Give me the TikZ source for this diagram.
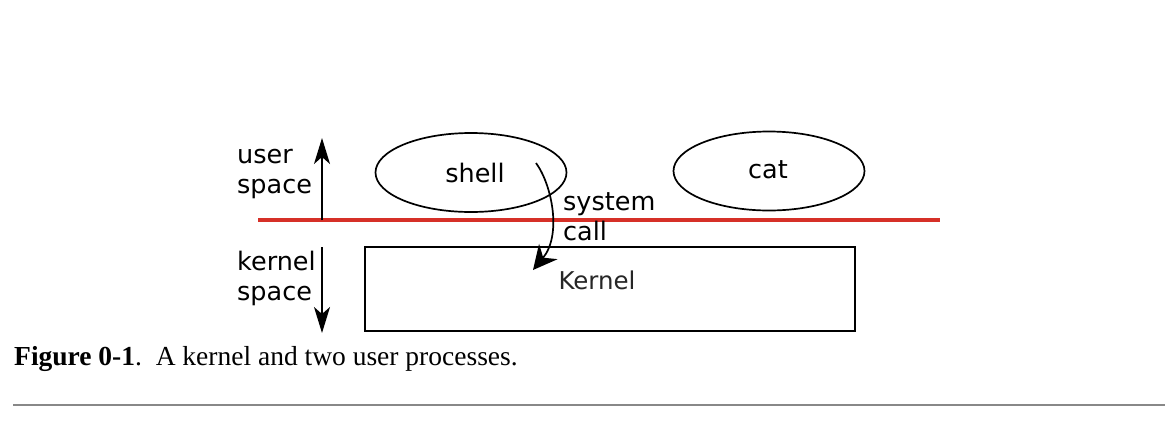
\documentclass[tikz,border=0pt]{standalone}
\usepackage{fontspec}
\setmainfont{DejaVu Sans}
\newfontfamily\capfont{Liberation Serif}
\usetikzlibrary{shapes.geometric,arrows.meta}
\definecolor{redline}{RGB}{214,48,40}
\definecolor{rulegray}{RGB}{136,136,136}
\tikzset{
  lbl/.style={inner sep=0pt, font=\fontsize{25.5}{30}\selectfont, align=left},
  proc/.style={ellipse, draw, line width=1.7pt, minimum width=191pt, minimum height=79pt, inner sep=0pt},
  kbox/.style={draw, line width=1.7pt, inner sep=0pt},
  spacearrow/.style={line width=1.7pt, -{Stealth[length=26pt,width=16pt,inset=7pt]}},
  callarrow/.style={line width=1.7pt, -{Stealth[length=24pt,width=24pt,inset=8pt]}},
}
\begin{document}
\begin{tikzpicture}[x=1pt,y=-1pt]
\useasboundingbox (0,0) rectangle (1174,424);
% boundary line
\coordinate (bl) at (258,220);
\coordinate (br) at (940,220);
\draw[redline, line width=4pt] (bl) -- (br);
% space arrows
\coordinate (ua) at (322,220);
\coordinate (ub) at (322,138);
\draw[spacearrow] (ua) -- (ub);
\coordinate (ka) at (322,247);
\coordinate (kb) at (322,333);
\draw[spacearrow] (ka) -- (kb);
\node[lbl, anchor=base west] (user) at (237,193) {user\\space};
\node[lbl, anchor=base west] (kern) at (237,300) {kernel\\space};
% processes
\node[proc] (shell) at (471,172.5) {};
\node[inner sep=0pt, anchor=base, font=\fontsize{25.5}{30}\selectfont] (shelltxt) at (475,182) {shell};
\node[proc] (cat) at (769,171) {};
\node[inner sep=0pt, anchor=base, font=\fontsize{25.5}{30}\selectfont] (cattxt) at (768,178) {cat};
% kernel box
\node[kbox, minimum width=490pt, minimum height=84pt] (kernel) at (610,289) {};
\node[inner sep=0pt, anchor=base, font=\fontsize{24.5}{29}\selectfont, text=black!85] (kerneltxt) at (597,289) {Kernel};
% system call
\coordinate (sc1) at (536,163);
\coordinate (sc2) at (533,270);
\draw[callarrow] (sc1) .. controls (552,185) and (562,235) .. (sc2);
\node[lbl, anchor=base west] (syscall) at (563,240) {system\\call};
% caption
\node[inner sep=0pt, anchor=base west, font=\capfont\fontsize{27.5}{30}\selectfont] (caption) at (14,365) {\textbf{Figure 0-1}.\ \ A kernel and two user processes.};
% bottom rule
\coordinate (r1) at (13,405);
\coordinate (r2) at (1165,405);
\draw[rulegray, line width=2pt] (r1) -- (r2);
\end{tikzpicture}
\end{document}
